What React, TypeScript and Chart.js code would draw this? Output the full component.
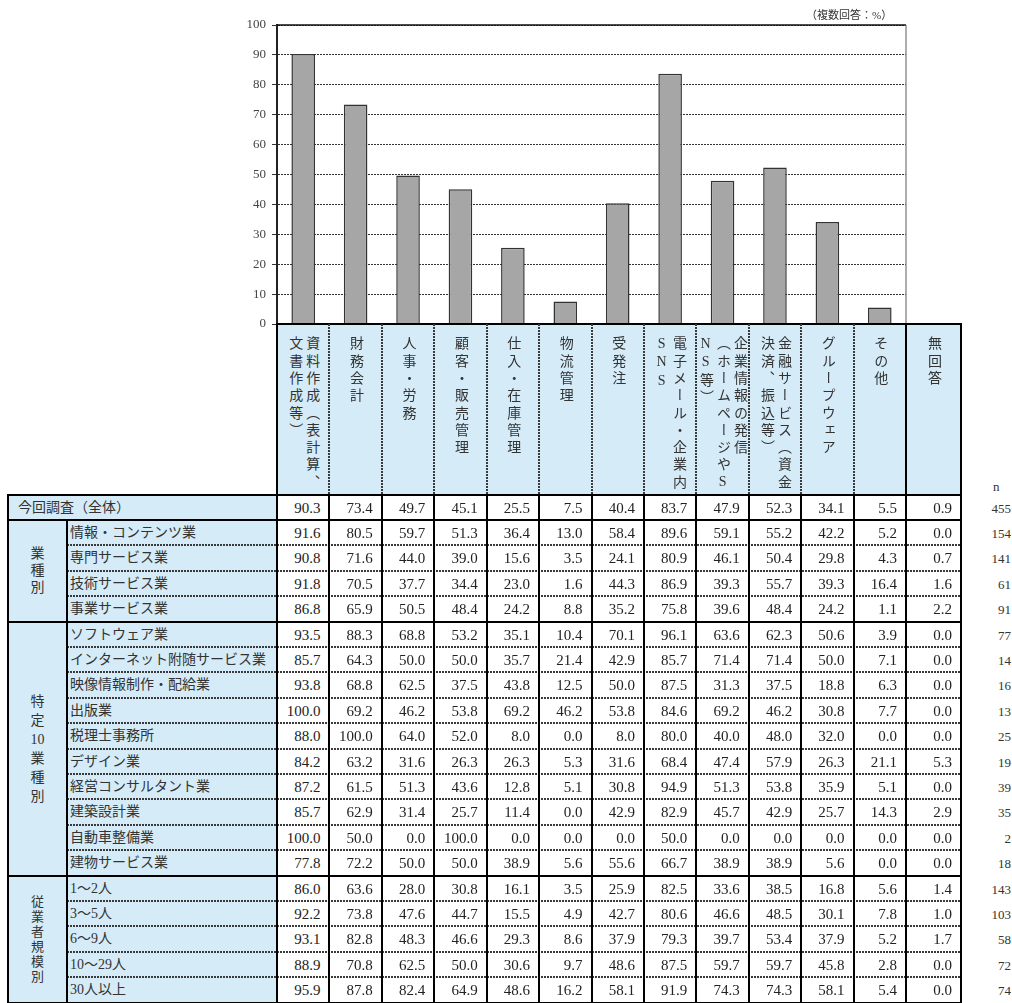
import React, { useEffect, useRef } from 'react';
import { Chart, registerables } from 'chart.js';

Chart.register(...registerables);

// ---------- data ----------
const columnLabels = [
  '資料作成（表計算、文書作成等）',
  '財務会計',
  '人事・労務',
  '顧客・販売管理',
  '仕入・在庫管理',
  '物流管理',
  '受発注',
  '電子メール・企業内SNS',
  '企業情報の発信（ホームページやSNS等）',
  '金融サービス（資金決済、振込等）',
  'グループウェア',
  'その他',
  '無回答',
];

const columnHeaderLines = [
  ['資料作成（表計算、', '文書作成等）'],
  ['財務会計'],
  ['人事・労務'],
  ['顧客・販売管理'],
  ['仕入・在庫管理'],
  ['物流管理'],
  ['受発注'],
  ['電子メール・企業内', 'SNS'],
  ['企業情報の発信', '（ホームページやS', 'NS等）'],
  ['金融サービス（資金', '決済、振込等）'],
  ['グループウェア'],
  ['その他'],
  ['無回答'],
];

const yTicks = [0, 10, 20, 30, 40, 50, 60, 70, 80, 90, 100];

const rowLabels = [
  '今回調査（全体）',
  '情報・コンテンツ業',
  '専門サービス業',
  '技術サービス業',
  '事業サービス業',
  'ソフトウェア業',
  'インターネット附随サービス業',
  '映像情報制作・配給業',
  '出版業',
  '税理士事務所',
  'デザイン業',
  '経営コンサルタント業',
  '建築設計業',
  '自動車整備業',
  '建物サービス業',
  '1～2人',
  '3～5人',
  '6～9人',
  '10～29人',
  '30人以上',
];

const rowN = [455, 154, 141, 61, 91, 77, 14, 16, 13, 25, 19, 39, 35, 2, 18, 143, 103, 58, 72, 74];

const overallValues = [90.3, 73.4, 49.7, 45.1, 25.5, 7.5, 40.4, 83.7, 47.9, 52.3, 34.1, 5.5, 0.9];

const rowValues = [
  overallValues,
  [91.6, 80.5, 59.7, 51.3, 36.4, 13.0, 58.4, 89.6, 59.1, 55.2, 42.2, 5.2, 0.0],
  [90.8, 71.6, 44.0, 39.0, 15.6, 3.5, 24.1, 80.9, 46.1, 50.4, 29.8, 4.3, 0.7],
  [91.8, 70.5, 37.7, 34.4, 23.0, 1.6, 44.3, 86.9, 39.3, 55.7, 39.3, 16.4, 1.6],
  [86.8, 65.9, 50.5, 48.4, 24.2, 8.8, 35.2, 75.8, 39.6, 48.4, 24.2, 1.1, 2.2],
  [93.5, 88.3, 68.8, 53.2, 35.1, 10.4, 70.1, 96.1, 63.6, 62.3, 50.6, 3.9, 0.0],
  [85.7, 64.3, 50.0, 50.0, 35.7, 21.4, 42.9, 85.7, 71.4, 71.4, 50.0, 7.1, 0.0],
  [93.8, 68.8, 62.5, 37.5, 43.8, 12.5, 50.0, 87.5, 31.3, 37.5, 18.8, 6.3, 0.0],
  [100.0, 69.2, 46.2, 53.8, 69.2, 46.2, 53.8, 84.6, 69.2, 46.2, 30.8, 7.7, 0.0],
  [88.0, 100.0, 64.0, 52.0, 8.0, 0.0, 8.0, 80.0, 40.0, 48.0, 32.0, 0.0, 0.0],
  [84.2, 63.2, 31.6, 26.3, 26.3, 5.3, 31.6, 68.4, 47.4, 57.9, 26.3, 21.1, 5.3],
  [87.2, 61.5, 51.3, 43.6, 12.8, 5.1, 30.8, 94.9, 51.3, 53.8, 35.9, 5.1, 0.0],
  [85.7, 62.9, 31.4, 25.7, 11.4, 0.0, 42.9, 82.9, 45.7, 42.9, 25.7, 14.3, 2.9],
  [100.0, 50.0, 0.0, 100.0, 0.0, 0.0, 0.0, 50.0, 0.0, 0.0, 0.0, 0.0, 0.0],
  [77.8, 72.2, 50.0, 50.0, 38.9, 5.6, 55.6, 66.7, 38.9, 38.9, 5.6, 0.0, 0.0],
  [86.0, 63.6, 28.0, 30.8, 16.1, 3.5, 25.9, 82.5, 33.6, 38.5, 16.8, 5.6, 1.4],
  [92.2, 73.8, 47.6, 44.7, 15.5, 4.9, 42.7, 80.6, 46.6, 48.5, 30.1, 7.8, 1.0],
  [93.1, 82.8, 48.3, 46.6, 29.3, 8.6, 37.9, 79.3, 39.7, 53.4, 37.9, 5.2, 1.7],
  [88.9, 70.8, 62.5, 50.0, 30.6, 9.7, 48.6, 87.5, 59.7, 59.7, 45.8, 2.8, 0.0],
  [95.9, 87.8, 82.4, 64.9, 48.6, 16.2, 58.1, 91.9, 74.3, 74.3, 58.1, 5.4, 0.0],
];

const groupLabels = [
  { chars: ['業', '種', '別'], from: 1, to: 5 },
  { chars: ['特', '定', '10', '業', '種', '別'], from: 5, to: 15 },
  { chars: ['従', '業', '者', '規', '模', '別'], from: 15, to: 20 },
];

const unitNote = '（複数回答：%）';

// ---------- layout ----------
const PLOT_LEFT = 277;
const PLOT_RIGHT = 906;
const TABLE_RIGHT = 961;
const HEADER_TOP = 324;
const ROWS_TOP = 494.5;
const ROW_H = 25.4;
const TABLE_LEFT = 8;
const GROUP_RIGHT = 67;
const COL_W = (PLOT_RIGHT - PLOT_LEFT) / 12;
const colLeft = (i: number) => (i <= 12 ? PLOT_LEFT + i * COL_W : TABLE_RIGHT);
const rowTop = (r: number) => ROWS_TOP + r * ROW_H;
const groupLineH = [17, 19, 15];
const groupFont = [14, 14, 13];

const SERIF = "'Liberation Serif', 'Times New Roman', 'DejaVu Serif', serif";
const FONT = "'Liberation Serif', 'Times New Roman', 'Noto Sans CJK JP', serif";
const TEXT = '#2b2b2b';
const BLUE = '#d5ecf8';

const frameLines = {
  id: 'frameLines',
  afterDatasetsDraw(chart: any) {
    const { ctx, chartArea } = chart;
    ctx.save();
    ctx.strokeStyle = '#111';
    ctx.lineWidth = 1.5;
    ctx.beginPath();
    ctx.moveTo(chartArea.left, chartArea.top);
    ctx.lineTo(chartArea.right, chartArea.top);
    ctx.stroke();
    ctx.strokeStyle = '#777';
    ctx.lineWidth = 1.2;
    ctx.beginPath();
    ctx.moveTo(chartArea.right, chartArea.top);
    ctx.lineTo(chartArea.right, chartArea.bottom);
    ctx.stroke();
    ctx.restore();
  },
};

function BarChart() {
  const ref = useRef<HTMLCanvasElement>(null);
  useEffect(() => {
    if (!ref.current) return;
    const chart = new Chart(ref.current, {
      type: 'bar',
      data: {
        labels: columnLabels.slice(0, 12),
        datasets: [
          {
            data: overallValues.slice(0, 12),
            backgroundColor: '#a6a6a6',
            borderColor: '#333',
            borderWidth: 1.5,
            barPercentage: 0.45,
            categoryPercentage: 1,
          },
        ],
      },
      options: {
        animation: false,
        responsive: false,
        maintainAspectRatio: false,
        layout: { padding: { top: 25, right: 4, bottom: 16, left: 0 } },
        plugins: { legend: { display: false }, tooltip: { enabled: false } },
        scales: {
          x: { display: false, offset: true },
          y: {
            min: 0,
            max: 100,
            afterBuildTicks: (s: any) => {
              s.ticks = yTicks.map((v) => ({ value: v }));
            },
            afterFit: (s: any) => {
              s.width = 57;
            },
            ticks: {
              font: { family: SERIF, size: 13 },
              color: '#444',
              padding: 6,
            },
            grid: {
              color: '#333',
              lineWidth: 1,
              tickLength: 5,
              tickColor: '#333',
              tickBorderDash: [],
            },
            border: { display: true, color: '#222', width: 2, dash: [2, 1] },
          },
        },
      },
      plugins: [frameLines],
    } as any);
    return () => chart.destroy();
  }, []);
  return (
    <canvas
      ref={ref}
      width={690}
      height={340}
      style={{ position: 'absolute', left: 220, top: 0, width: 690, height: 340 }}
    />
  );
}

const hSolid = (y: number, x1: number, x2: number, key: string) => (
  <div
    key={key}
    style={{ position: 'absolute', left: x1, top: Math.round(y) - 1, width: x2 - x1, height: 2, background: '#000' }}
  />
);
const vSolid = (x: number, y1: number, y2: number, key: string) => (
  <div
    key={key}
    style={{ position: 'absolute', left: Math.round(x) - 1, top: Math.round(y1) - 1, width: 2, height: Math.round(y2) - Math.round(y1) + 2, background: '#000' }}
  />
);
const hDash = (y: number, x1: number, x2: number, key: string) => (
  <div
    key={key}
    style={{
      position: 'absolute', left: x1, top: Math.round(y) - 1, width: x2 - x1, height: 2,
      background: 'repeating-linear-gradient(90deg, #3a3a3a 0 2px, rgba(0,0,0,0) 2px 3px)',
    }}
  />
);
const vDash = (x: number, y1: number, y2: number, key: string) => (
  <div
    key={key}
    style={{
      position: 'absolute', left: Math.round(x) - 1, top: Math.round(y1), width: 2, height: Math.round(y2) - Math.round(y1),
      background: 'repeating-linear-gradient(180deg, #3a3a3a 0 2px, rgba(0,0,0,0) 2px 3px)',
    }}
  />
);

export default function App() {
  const nRows = rowLabels.length;
  const bottom = rowTop(nRows);
  const lines: any[] = [];

  lines.push(hSolid(HEADER_TOP, PLOT_LEFT - 1, TABLE_RIGHT + 1, 'h-top'));
  lines.push(hSolid(ROWS_TOP, TABLE_LEFT - 1, TABLE_RIGHT + 1, 'h-rows'));
  for (let r = 1; r <= nRows; r++) {
    const y = rowTop(r);
    if (r === 1 || r === 5 || r === 15 || r === nRows) lines.push(hSolid(y, TABLE_LEFT - 1, TABLE_RIGHT + 1, 'h' + r));
    else lines.push(hDash(y, GROUP_RIGHT, TABLE_RIGHT, 'h' + r));
  }
  lines.push(vSolid(TABLE_LEFT, ROWS_TOP, bottom, 'v-left'));
  lines.push(vSolid(GROUP_RIGHT, rowTop(1), bottom, 'v-group'));
  lines.push(vSolid(PLOT_LEFT, HEADER_TOP, bottom, 'v-plot'));
  for (let i = 1; i <= 11; i++) {
    lines.push(vDash(colLeft(i), HEADER_TOP, ROWS_TOP, 'vd' + i));
    lines.push(vSolid(colLeft(i), ROWS_TOP, bottom, 'vs' + i));
  }
  lines.push(vSolid(colLeft(12), HEADER_TOP, bottom, 'v12'));
  lines.push(vSolid(TABLE_RIGHT, HEADER_TOP, bottom, 'v13'));

  return (
    <div style={{ position: 'absolute', left: 0, top: 0, width: 1012, height: 1003, background: '#fff', fontFamily: FONT, color: TEXT, overflow: 'hidden' }}>
      <BarChart />
      <div style={{ position: 'absolute', left: 806, top: 8, fontSize: 11, lineHeight: '14px', color: '#333', whiteSpace: 'nowrap' }}>{unitNote}</div>

      {columnHeaderLines.map((ls, i) => (
        <div
          key={'hd' + i}
          style={{
            position: 'absolute', left: colLeft(i), top: HEADER_TOP + 1, width: colLeft(i + 1) - colLeft(i),
            height: ROWS_TOP - HEADER_TOP - 1, background: BLUE, display: 'flex', justifyContent: 'center',
            paddingTop: 11, boxSizing: 'border-box',
          }}
        >
          <div style={{ writingMode: 'vertical-rl', textOrientation: 'upright', fontSize: 14, letterSpacing: '3.3px', lineHeight: '17px', height: 155, whiteSpace: 'nowrap', color: '#333' }}>
            {ls.map((l, j) => (
              <div key={j}>{l}</div>
            ))}
          </div>
        </div>
      ))}

      <div style={{ position: 'absolute', left: TABLE_LEFT, top: ROWS_TOP, width: PLOT_LEFT - TABLE_LEFT, height: bottom - ROWS_TOP, background: BLUE }} />

      {rowLabels.map((lab, r) => (
        <div
          key={'rl' + r}
          style={{
            position: 'absolute', left: r === 0 ? TABLE_LEFT + 10 : GROUP_RIGHT + 3, top: rowTop(r), height: ROW_H,
            lineHeight: ROW_H + 'px', fontSize: 14, whiteSpace: 'nowrap', color: '#333',
          }}
        >
          {lab}
        </div>
      ))}

      {groupLabels.map((g, gi) => {
        const top = rowTop(g.from);
        const h = rowTop(g.to) - top;
        return (
          <div
            key={'g' + gi}
            style={{
              position: 'absolute', left: TABLE_LEFT, top, width: GROUP_RIGHT - TABLE_LEFT, height: h,
              display: 'flex', flexDirection: 'column', justifyContent: 'center', alignItems: 'center',
              fontSize: groupFont[gi], color: '#333',
            }}
          >
            {g.chars.map((c, ci) => (
              <div key={ci} style={{ height: groupLineH[gi], lineHeight: groupLineH[gi] + 'px' }}>{c}</div>
            ))}
          </div>
        );
      })}

      {rowValues.map((vals, r) =>
        vals.map((v, c) => (
          <div
            key={'c' + r + '-' + c}
            style={{
              position: 'absolute', left: colLeft(c), top: rowTop(r) + 1, width: colLeft(c + 1) - colLeft(c) - 9,
              height: ROW_H, lineHeight: ROW_H + 'px', textAlign: 'right', fontSize: 15, fontFamily: SERIF, color: '#222',
            }}
          >
            {v.toFixed(1)}
          </div>
        ))
      )}

      <div style={{ position: 'absolute', left: 993, top: 479, fontSize: 13, fontFamily: SERIF, color: '#333' }}>n</div>
      {rowN.map((n, r) => (
        <div
          key={'n' + r}
          style={{
            position: 'absolute', left: 970, top: rowTop(r) + 1, width: 41, height: ROW_H, lineHeight: ROW_H + 'px',
            textAlign: 'right', fontSize: 13, fontFamily: SERIF, color: '#333',
          }}
        >
          {n}
        </div>
      ))}

      {lines}
    </div>
  );
}
